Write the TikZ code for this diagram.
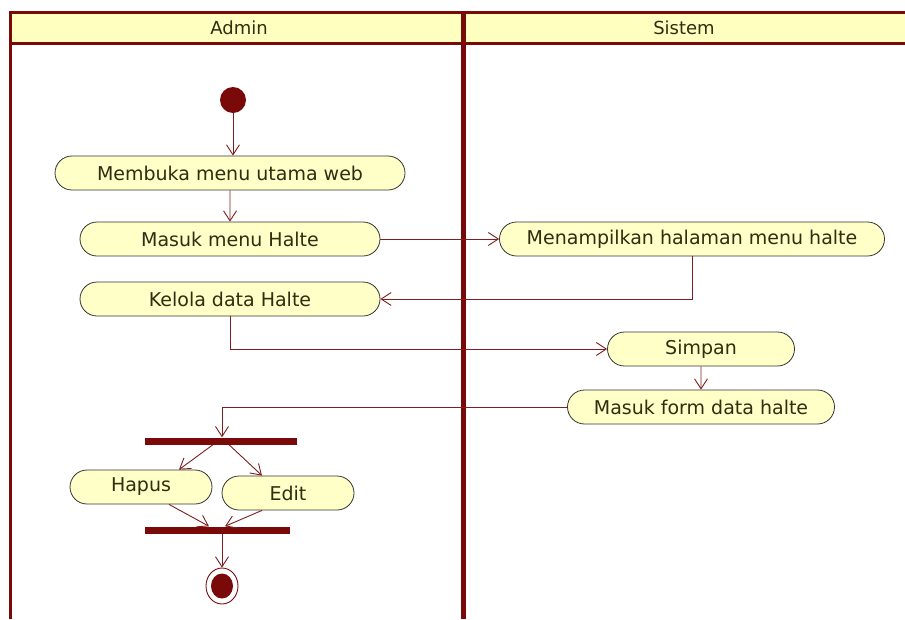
\documentclass[tikz,border=0pt]{standalone}
\usepackage{fontspec}
\setmainfont{DejaVu Sans}
\usetikzlibrary{arrows.meta,shapes.misc,shapes.geometric}
\definecolor{laneline}{HTML}{7A0A0A}
\definecolor{flowline}{HTML}{7E1E1E}
\definecolor{headfill}{HTML}{FFFFC0}
\definecolor{actfill}{HTML}{FFFFC8}
\definecolor{txt}{HTML}{2E2E10}
\tikzset{
  act/.style={rounded rectangle, draw=black!80, line width=0.8pt, fill=actfill,
    text=txt, font=\fontsize{19}{22}\selectfont, minimum height=34pt, inner sep=0pt},
  flow/.style={draw=flowline, line width=0.9pt, -{Straight Barb[length=10pt,width=13pt]}},
  bar/.style={fill=laneline, draw=none, inner sep=0pt, minimum height=7pt},
  lanehead/.style={font=\fontsize{18}{20}\selectfont, text=txt}
}
\begin{document}
\begin{tikzpicture}[x=1pt,y=-1pt]
\useasboundingbox (0,0) rectangle (905,619);
% swimlane frame
\fill[headfill] (10,12) rectangle (905,43);
\draw[laneline, line width=3pt] (10,619) -- (10,12) -- (905,12);
\draw[laneline, line width=3pt] (10,43) -- (905,43);
\draw[laneline, line width=5pt] (463,12) -- (463,619);
\node[lanehead] (hadmin) at (239,28) {Admin};
\node[lanehead] (hsistem) at (684,28) {Sistem};

% start and end states
\node[circle, fill=laneline, minimum size=26pt, inner sep=0pt] (start) at (233,100) {};
\node[ellipse, draw=laneline, line width=0.9pt, minimum width=32pt, minimum height=36pt, inner sep=0pt] (stop) at (222,586) {};
\node[ellipse, fill=laneline, minimum width=22pt, minimum height=25pt, inner sep=0pt] (stopdot) at (222,586) {};

% activities
\node[act, minimum width=350pt] (buka) at (230,173) {Membuka menu utama web};
\node[act, minimum width=300pt] (masuk) at (230,239) {Masuk menu Halte};
\node[act, minimum width=300pt] (kelola) at (230,299) {Kelola data Halte};
\node[act, minimum width=385pt] (tampil) at (692,239) {Menampilkan halaman menu halte};
\node[act, minimum width=187pt] (simpan) at (701,349) {Simpan};
\node[act, minimum width=267pt] (form) at (701,407) {Masuk form data halte};
\node[act, minimum width=142pt] (hapus) at (141,487) {Hapus};
\node[act, minimum width=132pt] (edit) at (288,493) {Edit};

% fork and join bars
\node[bar, minimum width=152pt] (fork) at (221,441) {};
\node[bar, minimum width=145pt] (join) at (217,530) {};

% control flow
\draw[flow] (start.south) -- (buka.north -| start.south);
\draw[flow] (buka) -- (masuk);
\draw[flow] (masuk.east) -- (tampil.west);
\draw[flow] (tampil.south) |- (kelola.east);
\draw[flow] (kelola.south) |- (simpan.west);
\draw[flow] (simpan) -- (form);
\draw[flow] (form.west) -| (fork.north -| stop.north);
\draw[flow] ([xshift=-8pt]fork.south) -- ([xshift=38pt]hapus.north);
\draw[flow] ([xshift=8pt]fork.south) -- ([xshift=-26pt]edit.north);
\draw[flow] ([xshift=28pt]hapus.south) -- ([xshift=-8pt]join.north);
\draw[flow] ([xshift=-26pt]edit.south) -- ([xshift=8pt]join.north);
\draw[flow] (join.south -| stop.north) -- (stop.north);
\end{tikzpicture}
\end{document}
